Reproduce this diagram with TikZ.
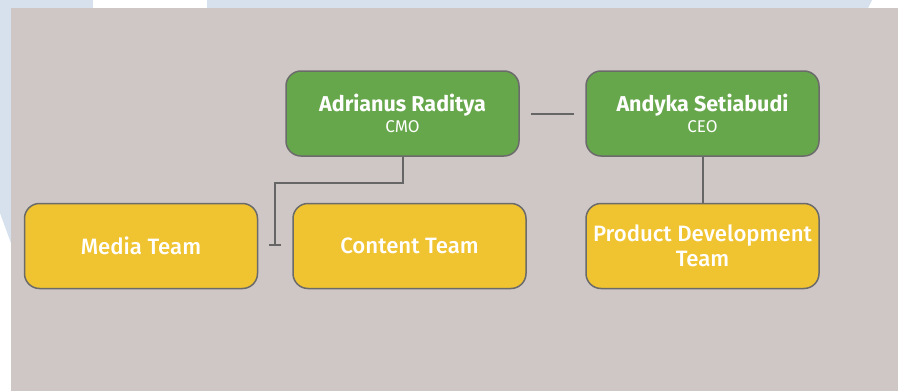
\documentclass[tikz,border=0pt]{standalone}
\usepackage{fontspec}
\setmainfont{Fira Sans}
\newfontfamily\medfont{Fira Sans Medium}
\usetikzlibrary{arrows.meta}
\definecolor{bgGrey}{HTML}{CFC7C5}
\definecolor{wmBlue}{HTML}{D6E1ED}
\definecolor{boxGreen}{HTML}{67A74C}
\definecolor{boxYellow}{HTML}{F0C331}
\definecolor{edgeGrey}{HTML}{6B6B6B}
\definecolor{lineGrey}{HTML}{666666}
\tikzset{
  orgbox/.style={draw=edgeGrey, line width=1.5pt, rounded corners=15pt,
    minimum width=233pt, minimum height=85pt, inner sep=0pt,
    text=white, align=center},
  lead/.style={orgbox, fill=boxGreen, font=\fontsize{21.5}{21}\selectfont\bfseries},
  team/.style={orgbox, fill=boxYellow, font=\fontsize{22.2}{25}\selectfont\medfont},
  conn/.style={draw=lineGrey, line width=2pt},
}
\newcommand{\rolefont}{\fontsize{17}{21}\selectfont\mdseries}
\begin{document}
\begin{tikzpicture}[x=1pt,y=-1pt]
  \useasboundingbox (0,0) rectangle (898,391);
  % background
  \fill[white] (0,0) rectangle (898,391);
  \fill[wmBlue] (0,0) -- (93,0) -- (93,8) -- (0,8) -- cycle;
  \fill[wmBlue] (207,0) -- (872,0) -- (868,8) -- (207,8) -- cycle;
  \fill[wmBlue] (0,0) -- (11,0) -- (11,243) -- (0,213) -- cycle;
  \fill[bgGrey] (11,8) rectangle (898,391);
  % nodes
  \node[lead] (cmo) at (402.5,113.5) {Adrianus Raditya\\{\rolefont CMO}};
  \node[lead] (ceo) at (702.5,113.5) {Andyka Setiabudi\\{\rolefont CEO}};
  \node[team] (media) at (141,246) {Media Team};
  \node[team] (content) at (409.5,246) {Content Team};
  \node[team] (pd) at (702.5,246) {Product Development\\Team};
  % connectors
  \draw[conn, shorten <=11pt, shorten >=11pt] (cmo) -- (ceo);
  \draw[conn] (ceo) -- (pd);
  \coordinate (elbow) at (402.5,183);
  \coordinate (tee) at (275,246);
  \draw[conn, -{Bar[width=12pt]}] (cmo.south) -- (elbow) -| (tee);
\end{tikzpicture}
\end{document}
